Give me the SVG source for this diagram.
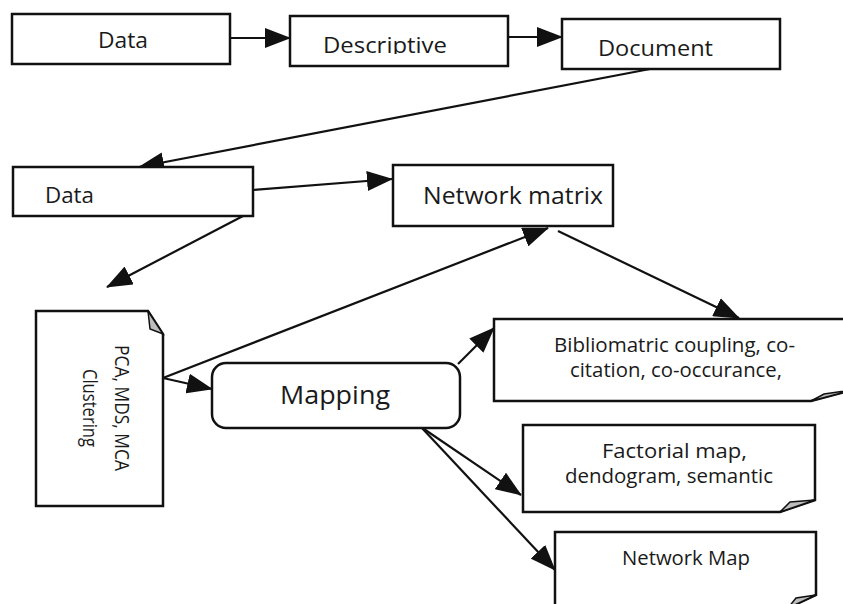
<svg xmlns="http://www.w3.org/2000/svg" width="843" height="604" viewBox="0 0 843 604">
<style>
.box{fill:#fff;stroke:#111;stroke-width:2.5}
.fold{fill:#bdbdbd;stroke:#111;stroke-width:1.5}
.t{font-family:"Open Sans","Liberation Sans",sans-serif;fill:#1a1a1a}
.m{text-anchor:middle}
.c{stroke:#111;stroke-width:2.2;fill:none;marker-end:url(#ah)}
</style>
<defs>
<marker id="ah" viewBox="0 0 26 20" refX="25" refY="10" markerWidth="26" markerHeight="20" markerUnits="userSpaceOnUse" orient="auto">
<path d="M0,0 L26,10 L0,20 Z" fill="#111"/>
</marker>
<clipPath id="descClip"><rect x="290" y="16" width="218" height="38"/></clipPath>
</defs>
<rect width="843" height="604" fill="#fff"/>

<g id="connectors">
<line class="c" x1="230" y1="38" x2="290" y2="38"/>
<line class="c" x1="508" y1="37" x2="562" y2="37"/>
<line class="c" x1="650" y1="69" x2="139" y2="167"/>
<line class="c" x1="253" y1="190" x2="392" y2="179"/>
<line class="c" x1="243" y1="216" x2="107" y2="287"/>
<line class="c" x1="163" y1="378" x2="548" y2="228"/>
<line class="c" x1="163" y1="378" x2="212" y2="389"/>
<line class="c" x1="558" y1="231" x2="739" y2="318"/>
<line class="c" x1="458" y1="364" x2="494" y2="328"/>
<line class="c" x1="421" y1="427" x2="521" y2="495"/>
<line class="c" x1="421" y1="427" x2="555" y2="570"/>
</g>

<g id="data1">
<rect class="box" x="12" y="14" width="218" height="50"/>
<text class="t" x="98" y="48" font-size="21" textLength="50" lengthAdjust="spacingAndGlyphs">Data</text>
</g>
<g id="descriptive">
<rect class="box" x="290" y="16" width="218" height="50"/>
<text class="t" x="323" y="53" font-size="21" textLength="124" lengthAdjust="spacingAndGlyphs" clip-path="url(#descClip)">Descriptive</text>
</g>
<g id="document">
<rect class="box" x="562" y="19" width="218" height="50"/>
<text class="t" x="598" y="56" font-size="21" textLength="115" lengthAdjust="spacingAndGlyphs">Document</text>
</g>
<g id="data2">
<rect class="box" x="13" y="167" width="240" height="49"/>
<text class="t" x="45" y="203" font-size="21" textLength="49" lengthAdjust="spacingAndGlyphs">Data</text>
</g>
<g id="network-matrix">
<rect class="box" x="393" y="165" width="220" height="61"/>
<text class="t" x="423" y="204" font-size="23" textLength="180" lengthAdjust="spacingAndGlyphs">Network matrix</text>
</g>
<g id="pca">
<path class="box" d="M36,311 H148 L163,334 V506 H36 Z"/>
<path class="fold" d="M148,311 L163,334 L150,329 Z"/>
<text class="t m" transform="translate(115,408) rotate(90)" font-size="20" textLength="126" lengthAdjust="spacingAndGlyphs">PCA, MDS, MCA</text>
<text class="t m" transform="translate(83,408) rotate(90)" font-size="20" textLength="78" lengthAdjust="spacingAndGlyphs">Clustering</text>
</g>
<g id="mapping">
<rect class="box" x="212" y="363" width="248" height="65" rx="14"/>
<text class="t" x="280" y="404" font-size="25" textLength="110" lengthAdjust="spacingAndGlyphs">Mapping</text>
</g>
<g id="bibliomatric">
<path class="box" d="M494,319 H852 V390 L811,401 H494 Z"/>
<path class="fold" d="M811,401 L852,390 L824,394 Z"/>
<text class="t" x="554" y="352" font-size="20" textLength="241" lengthAdjust="spacingAndGlyphs">Bibliomatric coupling, co-</text>
<text class="t" x="570" y="377" font-size="20" textLength="212" lengthAdjust="spacingAndGlyphs">citation, co-occurance,</text>
</g>
<g id="factorial">
<path class="box" d="M523,425 H815 V500 L780,512 H523 Z"/>
<path class="fold" d="M780,512 L815,500 L790,502 Z"/>
<text class="t" x="602" y="458" font-size="20" textLength="145" lengthAdjust="spacingAndGlyphs">Factorial map,</text>
<text class="t" x="565" y="483" font-size="20" textLength="208" lengthAdjust="spacingAndGlyphs">dendogram, semantic</text>
</g>
<g id="network-map">
<path class="box" d="M555,532 H816 V595 L788,608 H555 Z"/>
<path class="fold" d="M788,608 L816,595 L796,598 Z"/>
<text class="t" x="622" y="565" font-size="20" textLength="128" lengthAdjust="spacingAndGlyphs">Network Map</text>
</g>
</svg>
